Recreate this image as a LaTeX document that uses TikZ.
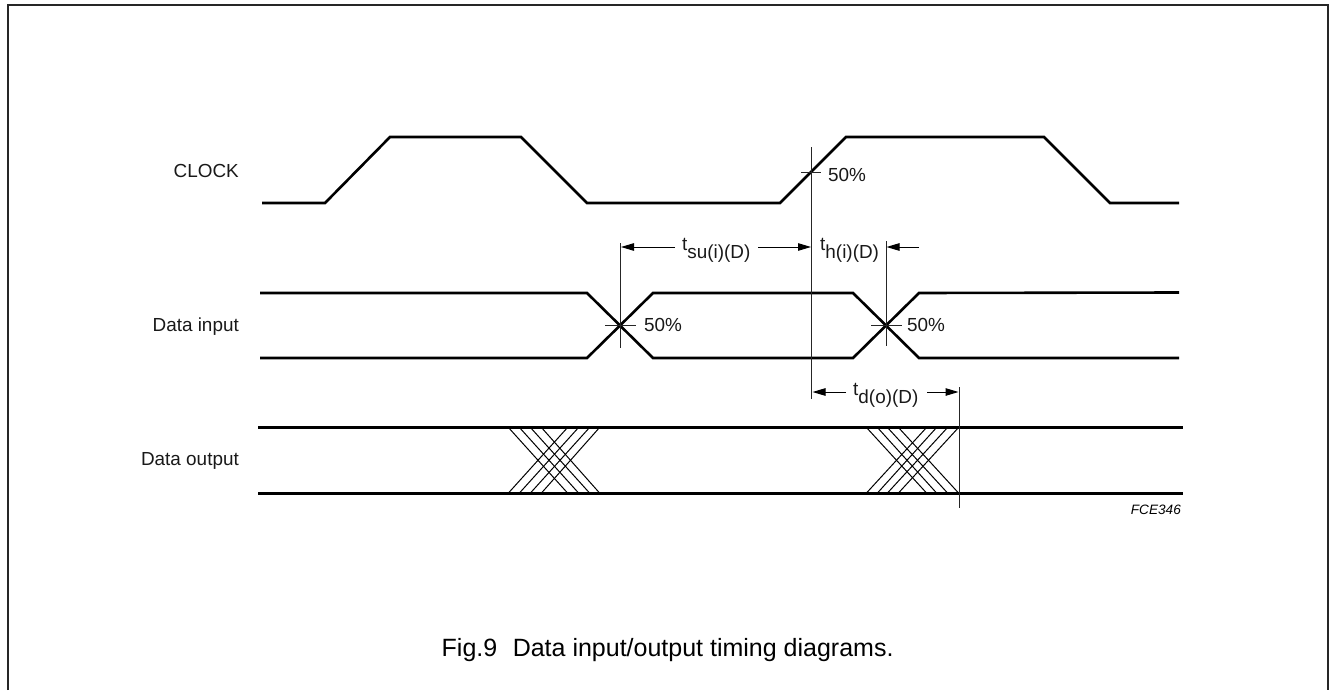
\documentclass[tikz,border=0pt]{standalone}
\usepackage{fontspec}
\setmainfont{Liberation Sans}
\usetikzlibrary{arrows.meta}
\tikzset{
  sig/.style={line width=2.6pt,line join=miter},
  fine/.style={line width=1pt,black!85},
  hatch/.style={line width=1pt},
  dim/.style={line width=1pt,-{Triangle[length=13pt,width=7.5pt]}},
  lab/.style={inner sep=0pt,font=\fontsize{18.9}{19}\selectfont,text=black!90},
  tim/.style={lab,anchor=base west},
  rlab/.style={lab,anchor=base east}
}
\newcommand{\tsub}[1]{t\raisebox{-8pt}{#1}}
\begin{document}
\begin{tikzpicture}[x=1pt,y=-1pt]
\useasboundingbox (0,0) rectangle (1329,690);
% frame
\draw[line width=2.2pt,black!85] (8,690) -- (8,5) -- (1328,5) -- (1328,690);
% signals
\draw[sig] (262,203) -- (325,203) -- (390,137) -- (521,137) -- (587,203) -- (780,203) -- (846,137) -- (1044,137) -- (1110,203) -- (1179,203);
\draw[sig] (260,293) -- (587,293) -- (653,358) -- (853,358) -- (919,293) -- (1179,292.5);
\draw[sig] (260,358) -- (587,358) -- (653,293) -- (853,293) -- (919,358) -- (1179,358);
\draw[sig] (258,427.3) -- (1183,427.3);
\draw[sig] (258,493.5) -- (1183,493.5);
% hatches
\foreach \a/\b in {508/568,519/579,530/590,541/600,866/927,877/937,887/948,898/959}{
  \draw[hatch] (\a,427) -- (\b,493.5);
  \draw[hatch] (\b,427) -- (\a,493.5);
}
% reference marks
\draw[fine] (811.5,147) coordinate (cktop) -- (811.5,399) coordinate (ckbot);
\draw[fine] (801,172) -- (821,172);
\draw[fine] (620,243) -- (620,348);
\draw[fine] (605,325) -- (636,325);
\draw[fine] (886,241) -- (886,346);
\draw[fine] (871,325) -- (902,325);
\draw[fine] (959.3,387) -- (959.3,508);
% labels
\node[rlab] (clock) at (239,177.3) {CLOCK};
\node[rlab] (din) at (239,331) {Data input};
\node[rlab] (dout) at (239,465.5) {Data output};
\node[tim] (p1) at (828,181.5) {50\%};
\node[tim] (p2) at (644,331) {50\%};
\node[tim] (p3) at (907,331) {50\%};
\node[tim] (tsu) at (682,250) {\tsub{su(i)(D)}};
\node[tim] (th) at (820,250) {\tsub{h(i)(D)}};
\node[tim] (td) at (853,395) {\tsub{d(o)(D)}};
\node[inner sep=0pt,anchor=base east,font=\fontsize{13.6}{14}\selectfont\itshape] (code) at (1181,514) {FCE346};
\node[inner sep=0pt,anchor=base west,font=\fontsize{25}{25}\selectfont] (cap) at (441.5,656.7) {Fig.9\hspace{15.5pt}Data input/output timing diagrams.};
% dimension arrows
\coordinate (a1) at (675,247); \coordinate (a1t) at (621,247);
\coordinate (a2) at (758,247); \coordinate (a2t) at (811,247);
\coordinate (a3) at (919,247); \coordinate (a3t) at (886.5,247);
\coordinate (a4) at (846,392); \coordinate (a4t) at (812.5,392);
\coordinate (a5) at (927,392); \coordinate (a5t) at (958.5,392);
\draw[dim] (a1) -- (a1t);
\draw[dim] (a2) -- (a2t);
\draw[dim] (a3) -- (a3t);
\draw[dim] (a4) -- (a4t);
\draw[dim] (a5) -- (a5t);
\end{tikzpicture}
\end{document}
